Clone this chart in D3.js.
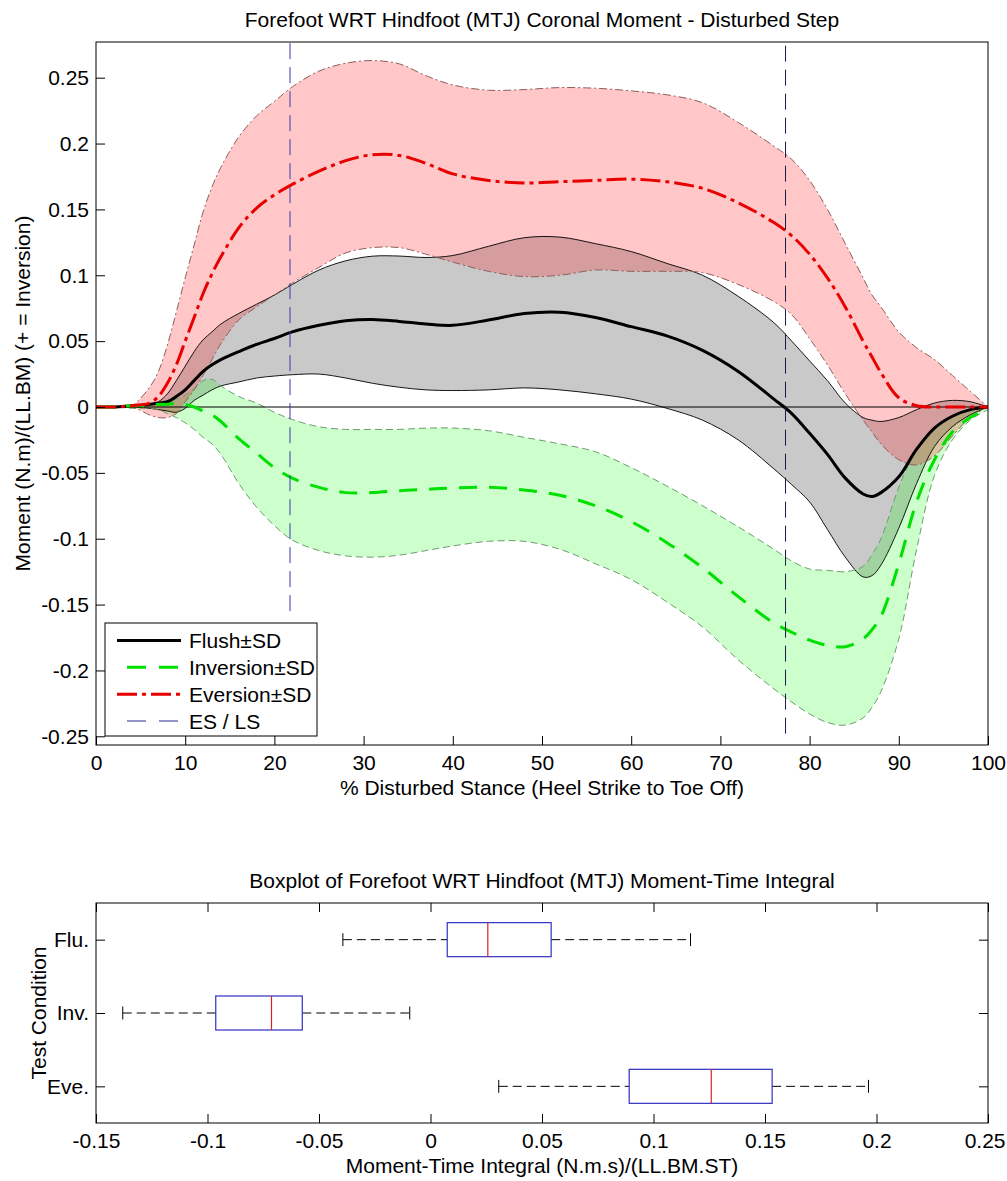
<!DOCTYPE html>
<html><head><meta charset="utf-8">
<script src="https://cdn.jsdelivr.net/npm/d3@7"></script>
<style>
body{margin:0;background:#fff}
text{font-family:"Liberation Sans",Arial,Helvetica,sans-serif;fill:#000}
</style>
</head><body>
<svg id="chart" width="1007" height="1181"></svg>
<script>
// ---------- DATA ----------
const pct = [0,2,4,6,7,8,9,10,11,12,13,14,16,18,20,22,25,28,31,34,37,40,44,48,52,56,60,64,68,72,76,78,80,82,84,86,87,88,90,92,94,96,98,100];

const flushMean  = [0,0,0.001,0.002,0.003,0.004,0.008,0.013,0.020,0.027, 0.032,0.036,0.042,0.0475,0.052,0.057,0.062,0.0655,0.0665,0.065, 0.063,0.062,0.066,0.071,0.072,0.068,0.061,0.054,0.043,0.027, 0.006,-0.005,-0.020,-0.036,-0.054,-0.066,-0.068,-0.065,-0.053,-0.032, -0.016,-0.007,-0.002,0];
const flushUpper = [0,0,0.001,0.002,0.004,0.010,0.020,0.031,0.042,0.051, 0.057,0.063,0.071,0.078,0.085,0.093,0.104,0.111,0.1145,0.1146, 0.1135,0.115,0.122,0.1285,0.129,0.124,0.118,0.109,0.100,0.084, 0.064,0.050,0.035,0.020,0.003,-0.008,-0.010,-0.011,-0.008,-0.002, 0.003,0.005,0.004,0];
const flushLower = [0,0,0,-0.001,-0.002,-0.003,-0.004,-0.001,0.005,0.009, 0.013,0.016,0.019,0.022,0.0235,0.0245,0.025,0.022,0.018,0.015, 0.013,0.0125,0.013,0.0145,0.013,0.010,0.006,-0.001,-0.010,-0.025, -0.047,-0.059,-0.072,-0.093,-0.114,-0.129,-0.128,-0.120,-0.092,-0.058, -0.030,-0.015,-0.006,0];

const invMean  = [0,0,0.001,0.001,0.002,0.002,0.003,0.002,0.000,-0.003, -0.006,-0.011,-0.024,-0.035,-0.046,-0.054,-0.061,-0.065,-0.065,-0.0635, -0.0625,-0.0615,-0.061,-0.063,-0.067,-0.075,-0.087,-0.103,-0.122,-0.144, -0.164,-0.171,-0.177,-0.181,-0.182,-0.176,-0.169,-0.159,-0.119,-0.072, -0.040,-0.019,-0.008,-0.001];
const invUpper = [0,0,0.001,0.002,0.003,0.004,0.006,0.009,0.014,0.020, 0.021,0.016,0.008,0.003,-0.004,-0.0095,-0.015,-0.017,-0.017,-0.017, -0.016,-0.016,-0.018,-0.023,-0.028,-0.034,-0.046,-0.060,-0.075,-0.091, -0.108,-0.117,-0.123,-0.124,-0.125,-0.121,-0.112,-0.100,-0.061,-0.032, -0.016,-0.007,-0.003,0.001];
const invLower = [0,0,-0.001,-0.001,-0.002,-0.005,-0.008,-0.012,-0.017,-0.023, -0.028,-0.036,-0.058,-0.076,-0.090,-0.101,-0.109,-0.113,-0.114,-0.1125, -0.109,-0.1055,-0.102,-0.102,-0.108,-0.119,-0.131,-0.148,-0.167,-0.192, -0.214,-0.224,-0.233,-0.2395,-0.2415,-0.236,-0.228,-0.216,-0.176,-0.108, -0.052,-0.025,-0.010,-0.002];

const eveMean  = [0,0,0.001,0.003,0.008,0.018,0.032,0.050,0.068,0.086, 0.101,0.114,0.136,0.151,0.161,0.169,0.179,0.187,0.1915,0.191, 0.185,0.177,0.172,0.170,0.171,0.172,0.173,0.171,0.166,0.155, 0.140,0.130,0.116,0.098,0.076,0.050,0.038,0.026,0.007,0.001, 0,0,0,0];
const eveUpper = [0,0,0.001,0.015,0.027,0.047,0.072,0.098,0.123,0.148, 0.167,0.182,0.205,0.221,0.232,0.243,0.255,0.261,0.263,0.2605, 0.2515,0.2445,0.2405,0.241,0.2425,0.242,0.240,0.237,0.231,0.216, 0.198,0.188,0.172,0.150,0.124,0.098,0.085,0.076,0.057,0.045, 0.036,0.024,0.012,0];
const eveLower = [0,0,0.000,-0.006,-0.008,-0.008,-0.005,0.004,0.013,0.024, 0.036,0.048,0.066,0.076,0.085,0.094,0.106,0.117,0.121,0.121, 0.116,0.110,0.103,0.099,0.100,0.104,0.103,0.103,0.102,0.093, 0.080,0.070,0.052,0.032,0.010,-0.010,-0.019,-0.028,-0.040,-0.044, -0.037,-0.022,-0.008,0];

// ES / LS event markers (x in % stance, lower end of the marker in moment units)
const eventX    = [21.75, 77.3];
const eventYLow = [-0.155, -0.248];

const xTicks1 = [0,10,20,30,40,50,60,70,80,90,100];
const xTickLabels1 = ["0","10","20","30","40","50","60","70","80","90","100"];
const yTicks1 = [0.25,0.2,0.15,0.1,0.05,0,-0.05,-0.1,-0.15,-0.2,-0.25];
const yTickLabels1 = ["0.25","0.2","0.15","0.1","0.05","0","-0.05","-0.1","-0.15","-0.2","-0.25"];

const legendLabels = ["Flush\u00B1SD","Inversion\u00B1SD","Eversion\u00B1SD","ES / LS"];

// Boxplot
const boxCats   = ["Flu.","Inv.","Eve."];
const whiskLow  = [-0.0393,-0.138,0.0306];
const boxQ1     = [0.0075,-0.0963,0.0891];
const boxMedian = [0.0257,-0.0713,0.1259];
const boxQ3     = [0.0541,-0.0575,0.1532];
const whiskHigh = [0.1166,-0.0093,0.1964];

const xTicks2 = [-0.15,-0.1,-0.05,0,0.05,0.1,0.15,0.2,0.25];
const xTickLabels2 = ["-0.15","-0.1","-0.05","0","0.05","0.1","0.15","0.2","0.25"];

// ---------- DRAW ----------
const svg = d3.select("#chart");
const FS = 21;

// ===== Top chart =====
const L1=96, R1=988, T1=42, B1=745;
const x1 = d3.scaleLinear().domain([0,100]).range([L1,R1]);
const y1 = d3.scaleLinear().domain([-0.2566,0.2771]).range([B1,T1]);

svg.append("defs").append("clipPath").attr("id","clip1")
  .append("rect").attr("x",L1).attr("y",T1).attr("width",R1-L1).attr("height",B1-T1);

const plot = svg.append("g").attr("clip-path","url(#clip1)");

function rows(m,u,l){ return pct.map((p,i)=>({x:p,m:m[i],u:u[i],l:l[i]})); }
const series = [
  {data:rows(flushMean,flushUpper,flushLower), fill:"rgba(0,0,0,0.21)", edge:"#000", edgeDash:null, edgeW:0.9,
   color:"#000", dash:null},
  {data:rows(invMean,invUpper,invLower), fill:"rgba(0,255,0,0.2)", edge:"#6e9c6e", edgeDash:"7,4", edgeW:1,
   color:"#00e000", dash:"18,12"},
  {data:rows(eveMean,eveUpper,eveLower), fill:"rgba(255,0,0,0.22)", edge:"#8e5e5e", edgeDash:"8,3,2,3", edgeW:1,
   color:"#e80000", dash:"20,5,4,5"}
];

const curve = d3.curveCatmullRom.alpha(0.5);
const area = d3.area().x(d=>x1(d.x)).y0(d=>y1(d.l)).y1(d=>y1(d.u)).curve(curve);
const lineU = d3.line().x(d=>x1(d.x)).y(d=>y1(d.u)).curve(curve);
const lineL = d3.line().x(d=>x1(d.x)).y(d=>y1(d.l)).curve(curve);
const lineM = d3.line().x(d=>x1(d.x)).y(d=>y1(d.m)).curve(curve);

series.forEach(s=>{
  plot.append("path").datum(s.data).attr("d",area).attr("fill",s.fill).attr("stroke","none");
});
series.forEach(s=>{
  [lineU,lineL].forEach(g=>{
    plot.append("path").datum(s.data).attr("d",g).attr("fill","none")
      .attr("stroke",s.edge).attr("stroke-width",s.edgeW)
      .attr("stroke-dasharray",s.edgeDash);
  });
});
plot.append("line").attr("x1",L1).attr("x2",R1).attr("y1",y1(0)).attr("y2",y1(0))
  .attr("stroke","#000").attr("stroke-width",1);
series.forEach(s=>{
  plot.append("path").datum(s.data).attr("d",lineM).attr("fill","none")
    .attr("stroke",s.color).attr("stroke-width",3)
    .attr("stroke-dasharray",s.dash);
});
const eventColors = ["#3a3aa8","#1c1c48"];
eventX.forEach((ex,i)=>{
  plot.append("line").attr("x1",x1(ex)).attr("x2",x1(ex))
    .attr("y1",y1(eventYLow[i])).attr("y2",T1)
    .attr("stroke",eventColors[i]).attr("stroke-width",1).attr("stroke-dasharray","16,8");
});

svg.append("rect").attr("x",L1).attr("y",T1).attr("width",R1-L1).attr("height",B1-T1)
  .attr("fill","none").attr("stroke","#000").attr("stroke-width",1);

const ax1 = svg.append("g").attr("transform",`translate(0,${B1})`)
  .call(d3.axisBottom(x1).tickValues(xTicks1).tickFormat((d,i)=>xTickLabels1[i]).tickSize(-9).tickPadding(10));
const ay1 = svg.append("g").attr("transform",`translate(${L1},0)`)
  .call(d3.axisLeft(y1).tickValues(yTicks1).tickFormat((d,i)=>yTickLabels1[i]).tickSize(-9).tickPadding(7));
[ax1,ay1].forEach(g=>{
  g.select(".domain").remove();
  g.selectAll("line").attr("stroke","#000");
  g.selectAll("text").attr("font-size",FS).attr("fill","#000");
  g.attr("font-family",null).attr("font-size",null);
});

svg.append("text").attr("x",(L1+R1)/2).attr("y",27).attr("text-anchor","middle").attr("font-size",FS)
  .text("Forefoot WRT Hindfoot (MTJ) Coronal Moment - Disturbed Step");
svg.append("text").attr("x",(L1+R1)/2).attr("y",795).attr("text-anchor","middle").attr("font-size",FS)
  .text("% Disturbed Stance (Heel Strike to Toe Off)");
svg.append("text").attr("transform",`translate(30,${(T1+B1)/2}) rotate(-90)`).attr("text-anchor","middle").attr("font-size",FS)
  .text("Moment (N.m)/(LL.BM) (+ = Inversion)");

// legend
const lg = svg.append("g");
lg.append("rect").attr("x",105).attr("y",623).attr("width",212).attr("height",113)
  .attr("fill","#fff").attr("stroke","#000").attr("stroke-width",1);
const legendRowY = d3.scalePoint().domain(legendLabels).range([640.5,721]);
const legStyles = [
  {c:"#000", w:3, d:null},
  {c:"#00e000", w:3, d:"19,13", off:-10},
  {c:"#e80000", w:3, d:"20,5,4,5"},
  {c:"#2a2a8a", w:1, d:"19,13", off:-10}
];
legendLabels.forEach((lab,i)=>{
  const yy = legendRowY(lab);
  const st = legStyles[i];
  lg.append("line").attr("x1",117).attr("x2",181).attr("y1",yy).attr("y2",yy)
    .attr("stroke",st.c).attr("stroke-width",st.w).attr("stroke-dasharray",st.d)
    .attr("stroke-dashoffset",st.off||0);
  lg.append("text").attr("x",189).attr("y",yy).attr("dy","0.36em").attr("font-size",FS).text(lab);
});

// ===== Bottom chart: boxplot =====
const L2=96, R2=988, T2=903, B2=1123;
const x2 = d3.scaleLinear().domain([-0.15,0.25]).range([L2,R2]);
const y2 = d3.scaleLinear().domain([0.5,3.5]).range([T2,B2]);
const catPos = d3.scaleOrdinal().domain(boxCats).range([1,2,3]);

const bp = svg.append("g");
boxCats.forEach((c,i)=>{
  const cy = y2(catPos(c));
  const hh = y2(catPos(c)+0.232)-cy;
  const ch = y2(catPos(c)+0.088)-cy;
  bp.append("line").attr("x1",x2(whiskLow[i])).attr("x2",x2(boxQ1[i])).attr("y1",cy).attr("y2",cy)
    .attr("stroke","#000").attr("stroke-width",1).attr("stroke-dasharray","9,5");
  bp.append("line").attr("x1",x2(boxQ3[i])).attr("x2",x2(whiskHigh[i])).attr("y1",cy).attr("y2",cy)
    .attr("stroke","#000").attr("stroke-width",1).attr("stroke-dasharray","9,5");
  [whiskLow[i],whiskHigh[i]].forEach(v=>{
    bp.append("line").attr("x1",x2(v)).attr("x2",x2(v)).attr("y1",cy-ch).attr("y2",cy+ch)
      .attr("stroke","#000").attr("stroke-width",1);
  });
  bp.append("rect").attr("x",x2(boxQ1[i])).attr("y",cy-hh).attr("width",x2(boxQ3[i])-x2(boxQ1[i])).attr("height",2*hh)
    .attr("fill","#fff").attr("stroke","#3030c0").attr("stroke-width",1.2);
  bp.append("line").attr("x1",x2(boxMedian[i])).attr("x2",x2(boxMedian[i])).attr("y1",cy-hh).attr("y2",cy+hh)
    .attr("stroke","#e02020").attr("stroke-width",1.2);
});

svg.append("rect").attr("x",L2).attr("y",T2).attr("width",R2-L2).attr("height",B2-T2)
  .attr("fill","none").attr("stroke","#000").attr("stroke-width",1);

const ax2 = svg.append("g").attr("transform",`translate(0,${B2})`)
  .call(d3.axisBottom(x2).tickValues(xTicks2).tickFormat((d,i)=>xTickLabels2[i]).tickSize(-9).tickPadding(10));
const ax2t = svg.append("g").attr("transform",`translate(0,${T2})`)
  .call(d3.axisTop(x2).tickValues(xTicks2).tickFormat("").tickSize(-9));
const ay2 = svg.append("g").attr("transform",`translate(${L2},0)`)
  .call(d3.axisLeft(y2).tickValues([1,2,3]).tickFormat((d,i)=>boxCats[i]).tickSize(-9).tickPadding(7));
const ay2r = svg.append("g").attr("transform",`translate(${R2},0)`)
  .call(d3.axisRight(y2).tickValues([1,2,3]).tickFormat("").tickSize(-9));
[ax2,ax2t,ay2,ay2r].forEach(g=>{
  g.select(".domain").remove();
  g.selectAll("line").attr("stroke","#000");
  g.selectAll("text").attr("font-size",FS).attr("fill","#000");
  g.attr("font-family",null).attr("font-size",null);
});
// keep the right-most label inside the page, as in the reference
ax2.selectAll(".tick text").filter((d,i,n)=>i===n.length-1)
  .attr("text-anchor","end").attr("x",1005-R2);

svg.append("text").attr("x",(L2+R2)/2).attr("y",888).attr("text-anchor","middle").attr("font-size",FS)
  .text("Boxplot of Forefoot WRT Hindfoot (MTJ) Moment-Time Integral");
svg.append("text").attr("x",(L2+R2)/2).attr("y",1173).attr("text-anchor","middle").attr("font-size",FS)
  .text("Moment-Time Integral (N.m.s)/(LL.BM.ST)");
svg.append("text").attr("transform",`translate(46,${(T2+B2)/2}) rotate(-90)`).attr("text-anchor","middle").attr("font-size",FS)
  .text("Test Condition");
</script>
</body></html>
